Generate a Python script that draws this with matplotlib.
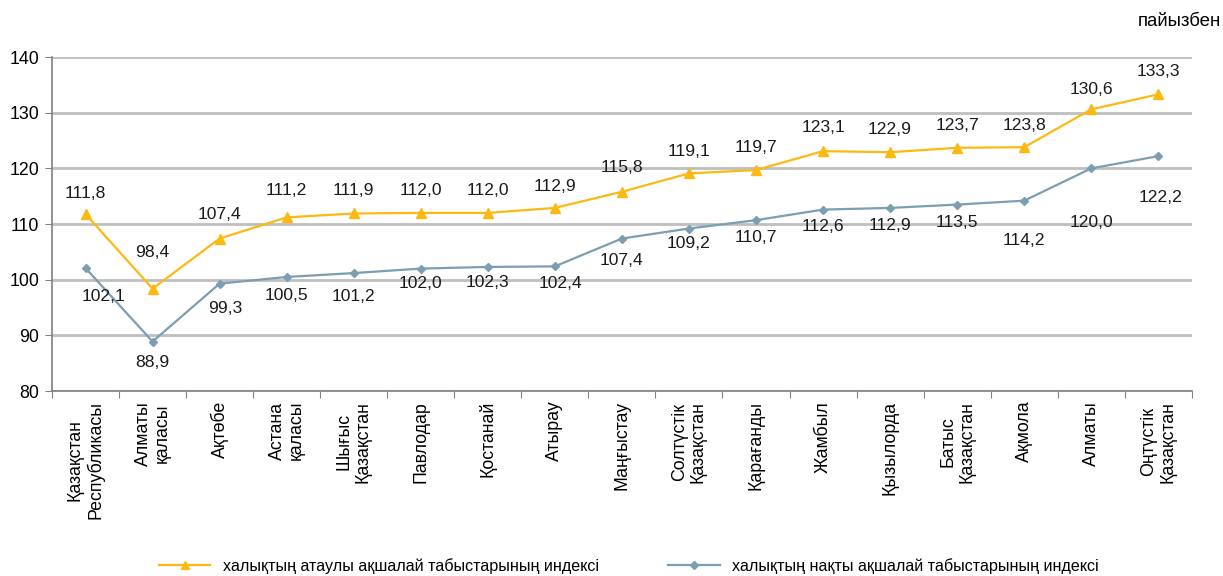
import numpy as np
import matplotlib
matplotlib.use('Agg')
import matplotlib.pyplot as plt
from matplotlib.lines import Line2D

plt.rcParams['font.family'] = ['Liberation Sans', 'DejaVu Sans']

regions = [
    'Қазақстан\nРеспубликасы', 'Алматы\nқаласы', 'Ақтөбе', 'Астана\nқаласы',
    'Шығыс\nҚазақстан', 'Павлодар', 'Қостанай', 'Атырау', 'Маңғыстау',
    'Солтүстік\nҚазақстан', 'Қарағанды', 'Жамбыл', 'Қызылорда',
    'Батыс\nҚазақстан', 'Ақмола', 'Алматы', 'Оңтүстік\nҚазақстан',
]
nominal = [111.8, 98.4, 107.4, 111.2, 111.9, 112.0, 112.0, 112.9, 115.8,
           119.1, 119.7, 123.1, 122.9, 123.7, 123.8, 130.6, 133.3]
real = [102.1, 88.9, 99.3, 100.5, 101.2, 102.0, 102.3, 102.4, 107.4,
        109.2, 110.7, 112.6, 112.9, 113.5, 114.2, 120.0, 122.2]

nominal_name = 'халықтың атаулы ақшалай табыстарының индексі'
real_name = 'халықтың нақты ақшалай табыстарының индексі'

YELLOW = '#FDB913'
BLUE = '#7C9EB2'
GRID = '#BFBFBF'

# label offsets in pixels (dx, dy)
nom_off = [(0, 21), (0, 36), (0, 24), (0, 27), (0, 23), (0, 22), (0, 22), (0, 21),
           (0, 24), (0, 22), (0, 23), (0, 24), (0, 23), (0, 22), (0, 22), (0, 20), (0, 23)]
real_off = [(18, -28), (0, -21), (6, -25), (0, -19), (0, -23), (0, -15), (0, -16), (6, -17),
            (0, -22), (0, -15), (0, -17), (0, -17), (0, -18), (0, -18), (0, -40), (0, -54), (2, -41)]

fig = plt.figure(figsize=(12.23, 5.76), dpi=100)
ax = fig.add_axes([0.0425, 0.321, 0.932, 0.580])

x = np.arange(len(regions))
ax.plot(x, nominal, color=YELLOW, lw=1.6, marker='^', ms=6.5, zorder=3)
ax.plot(x, real, color=BLUE, lw=1.6, marker='D', ms=4.5, zorder=3)

for i in range(len(x)):
    ax.annotate(f'{nominal[i]:.1f}'.replace('.', ','), (x[i], nominal[i]),
                xytext=nom_off[i], textcoords='offset pixels',
                ha='center', va='center', fontsize=12.6, color='#1a1a1a')
    ax.annotate(f'{real[i]:.1f}'.replace('.', ','), (x[i], real[i]),
                xytext=real_off[i], textcoords='offset pixels',
                ha='center', va='center', fontsize=12.6, color='#1a1a1a')

ax.set_xlim(-0.5, len(regions) - 0.5)
ax.set_ylim(80, 140)
ax.set_yticks(range(80, 141, 10))
ax.yaxis.grid(True, color=GRID, lw=2)
ax.set_axisbelow(True)

ax.set_xticks(np.arange(-0.5, len(regions), 1))
ax.set_xticklabels([])
ax.set_xticks(x, minor=True)
ax.set_xticklabels(regions, minor=True, rotation=90, fontsize=12.8,
                   va='top', ha='center', multialignment='center', linespacing=1.15)
ax.tick_params(axis='x', which='minor', length=0, pad=7)
ax.tick_params(axis='x', which='major', length=5, color='#808080')
ax.tick_params(axis='y', length=5, color='#808080', labelsize=12.8, pad=4)

for s in ['top', 'right']:
    ax.spines[s].set_visible(False)
ax.spines['left'].set_color('#808080')
ax.spines['bottom'].set_color('#808080')
ax.spines['left'].set_linewidth(1.2)
ax.spines['bottom'].set_linewidth(1.2)

fig.text(0.998, 0.962, 'пайызбен', ha='right', va='center', fontsize=13.4)

handles = [
    Line2D([], [], color=YELLOW, lw=1.6, marker='^', ms=6),
    Line2D([], [], color=BLUE, lw=1.6, marker='D', ms=4),
]
fig.legend(handles, [nominal_name, real_name], loc='center',
           bbox_to_anchor=(0.514, 0.017), ncol=2, frameon=False,
           fontsize=11.6, handlelength=3.2, columnspacing=4.3, handletextpad=0.75)

fig.savefig('out.png', dpi=100)
